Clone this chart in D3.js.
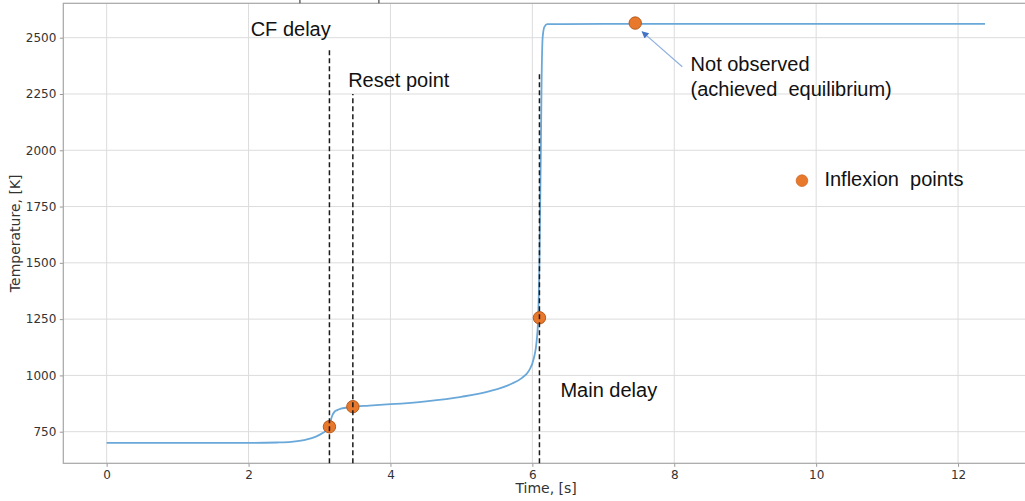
<!DOCTYPE html>
<html><head><meta charset="utf-8">
<script src="https://cdn.jsdelivr.net/npm/d3@7"></script>
<style>body{margin:0;background:#fff;overflow:hidden}svg{display:block}</style>
</head><body>
<svg id="chart" width="1025" height="501"></svg>
<script>
// ---- data ----
const timeS = [0, 1.0, 2.0, 2.4, 2.6, 2.8, 2.95, 3.05, 3.12, 3.15, 3.18, 3.21, 3.25, 3.3, 3.45, 3.7, 4.0, 4.5, 5.0, 5.4, 5.7, 5.85, 5.95, 6.02, 6.06, 6.08, 6.1, 6.12, 6.13, 6.145, 6.17, 6.21, 7.0, 9.0, 12.38];
const tempK = [700, 700, 700, 702, 705, 714, 728, 745, 763, 790, 822, 838, 846, 852, 860, 866, 872, 885, 905, 930, 962, 988, 1020, 1075, 1150, 1240, 1500, 2000, 2300, 2500, 2548, 2560, 2561, 2561, 2561];
const inflexT = [3.14, 3.47, 6.10, 7.45];
const inflexK = [772, 861, 1256, 2565];
const vlineT = [3.14, 3.47, 6.10];
const vlineTopK = [2455, 2250, 2348];
const xTicks = [0, 2, 4, 6, 8, 10, 12];
const yTicks = [750, 1000, 1250, 1500, 1750, 2000, 2250, 2500];
const xDomain = [-0.611, 13.0];
const yDomain = [609.6, 2652.8];
const xLabel = "Time, [s]";
const yLabel = "Temperature, [K]";
const noteText = ["CF delay", "Reset point", "Main delay", "Not observed", "(achieved  equilibrium)"];
const noteT = [2.03, 3.404, 6.396, 8.23, 8.23];
const noteK = [2507, 2281, 905, 2352, 2241];
const legendText = "Inflexion  points";
const legendT = [9.80, 10.117];
const legendK = [1865, 1841];
const arrowT = [8.113, 7.547];
const arrowK = [2371, 2527];
const topMarkT = [2.724, 3.837];

(function () {
// ---- layout ----
const svg = d3.select("#chart");
const pL = 63.3, pR = 1029, pT = 3.3, pB = 463.3;
const x = d3.scaleLinear().domain(xDomain).range([pL, pR]);
const y = d3.scaleLinear().domain(yDomain).range([pB, pT]);

const defs = svg.append("defs");
defs.append("clipPath").attr("id", "clip").append("rect")
  .attr("x", pL).attr("y", pT).attr("width", pR - pL).attr("height", pB - pT);
defs.append("marker").attr("id", "arr").attr("viewBox", "0 0 10 10")
  .attr("refX", 9).attr("refY", 5).attr("markerWidth", 9).attr("markerHeight", 7)
  .attr("markerUnits", "userSpaceOnUse").attr("orient", "auto")
  .append("path").attr("d", "M0,0 L10,5 L0,10 z").attr("fill", "#4472c4");

// grid
const grid = svg.append("g");
grid.selectAll(".gx").data(xTicks).join("line")
  .attr("x1", d => x(d)).attr("x2", d => x(d)).attr("y1", pT).attr("y2", pB)
  .attr("stroke", "#dcdcdc").attr("stroke-width", 1);
grid.selectAll(".gy").data(yTicks).join("line")
  .attr("x1", pL).attr("x2", pR).attr("y1", d => y(d)).attr("y2", d => y(d))
  .attr("stroke", "#dcdcdc").attr("stroke-width", 1);

// axes
const fmt = d3.format("d");
const xAxis = svg.append("g").attr("transform", `translate(0,${pB})`)
  .call(d3.axisBottom(x).tickValues(xTicks).tickFormat(fmt).tickSize(3.5).tickPadding(3.5));
const yAxis = svg.append("g").attr("transform", `translate(${pL},0)`)
  .call(d3.axisLeft(y).tickValues(yTicks).tickFormat(fmt).tickSize(3.5).tickPadding(3.5));
[xAxis, yAxis].forEach(a => {
  a.select(".domain").remove();
  a.selectAll(".tick line").attr("stroke", "#999");
  a.selectAll(".tick text").attr("fill", "#333").style("font-family", "DejaVu Sans").style("font-size", "12px");
});

// spines
svg.append("rect").attr("x", pL).attr("y", pT).attr("width", pR - pL).attr("height", pB - pT)
  .attr("fill", "none").attr("stroke", "#a6a6a6").attr("stroke-width", 1.2);

// small marks on top
svg.selectAll(".tm").data(topMarkT).join("line")
  .attr("x1", d => x(d)).attr("x2", d => x(d)).attr("y1", 0).attr("y2", pT)
  .attr("stroke", "#444").attr("stroke-width", 1.2);

// axis labels
svg.append("text").attr("x", (pL + pR) / 2).attr("y", 493).attr("text-anchor", "middle")
  .style("font-family", "DejaVu Sans").style("font-size", "14px").attr("fill", "#333").text(xLabel);
svg.append("text").attr("transform", `translate(20,${(pT + pB) / 2}) rotate(-90)`)
  .attr("text-anchor", "middle")
  .style("font-family", "DejaVu Sans").style("font-size", "14px").attr("fill", "#333").text(yLabel);

// curve
const pts = timeS.map((t, i) => [t, tempK[i]]);
svg.append("path").datum(pts).attr("clip-path", "url(#clip)")
  .attr("d", d3.line().x(d => x(d[0])).y(d => y(d[1])).curve(d3.curveMonotoneX))
  .attr("fill", "none").attr("stroke", "#6aa8d9").attr("stroke-width", 1.8);

// inflexion points
svg.selectAll(".pt").data(inflexT.map((t, i) => [t, inflexK[i]])).join("circle")
  .attr("cx", d => x(d[0])).attr("cy", d => y(d[1])).attr("r", 6.2)
  .attr("fill", "#e8782c").attr("stroke", "#b65a1c").attr("stroke-width", 1);

// vertical dashed lines
svg.selectAll(".vl").data(vlineT.map((t, i) => [t, vlineTopK[i]])).join("line")
  .attr("x1", d => x(d[0])).attr("x2", d => x(d[0]))
  .attr("y1", pB).attr("y2", d => y(d[1]))
  .attr("stroke", "#1a1a1a").attr("stroke-width", 1.5).attr("stroke-dasharray", "5,3");

// annotations
svg.selectAll(".note").data(noteText).join("text")
  .attr("x", (d, i) => x(noteT[i])).attr("y", (d, i) => y(noteK[i]))
  .style("font-family", "Liberation Sans, Arial, sans-serif").style("font-size", "20px")
  .style("white-space", "pre").attr("fill", "#111").text(d => d);

// arrow
svg.append("line")
  .attr("x1", x(arrowT[0])).attr("y1", y(arrowK[0])).attr("x2", x(arrowT[1])).attr("y2", y(arrowK[1]))
  .attr("stroke", "#8fb0e0").attr("stroke-width", 1.2).attr("marker-end", "url(#arr)");

// legend
svg.append("circle").attr("cx", x(legendT[0])).attr("cy", y(legendK[0])).attr("r", 5.8)
  .attr("fill", "#e8782c").attr("stroke", "#d06a25").attr("stroke-width", 0.8);
svg.append("text").attr("x", x(legendT[1])).attr("y", y(legendK[1]))
  .style("font-family", "Liberation Sans, Arial, sans-serif").style("font-size", "20px")
  .style("white-space", "pre").attr("fill", "#111").text(legendText);
})();
</script>
</body></html>
